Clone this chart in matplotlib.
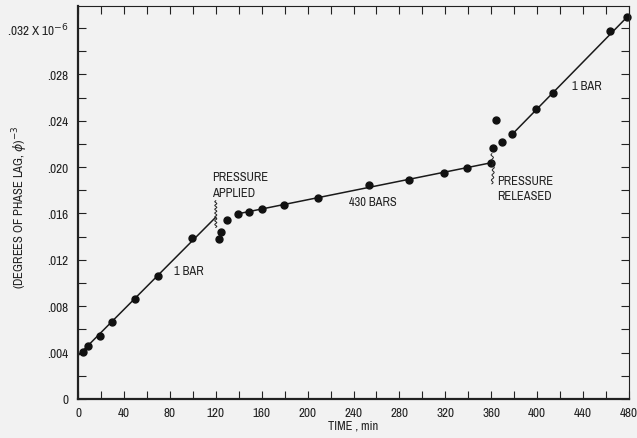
import numpy as np
import matplotlib
matplotlib.use("Agg")
import matplotlib.pyplot as plt
from matplotlib import font_manager
from matplotlib.ticker import MultipleLocator, FuncFormatter

# the original lettering is narrow; use a narrow face if one is installed
narrow = [f.name for f in font_manager.fontManager.ttflist
          if 'Narrow' in f.name or 'Condensed' in f.name]
cond = [f.name for f in font_manager.fontManager.ttflist
        if str(f.stretch) in ('condensed', 'semi-condensed', '75', '87')]
if narrow:
    plt.rcParams['font.family'] = [narrow[0], 'DejaVu Sans']
elif cond:
    plt.rcParams['font.family'] = [cond[0], 'DejaVu Sans']
    plt.rcParams['font.stretch'] = 'condensed'
else:
    plt.rcParams['font.family'] = ['DejaVu Sans']

# measured points: time (min), (phase lag)^-3 in units of 1e-6
time_pts = [4.4, 9, 19.2, 29.6, 49.4, 69.4, 99.6,
            123.1, 124.6, 129.5,
            139.1, 149.2, 160, 179.2, 209.3, 253.8, 288.6, 318.8, 338.6, 359.5,
            361.5, 363.8, 369,
            378.3, 399, 414, 463.4, 478.5]
lag_pts = [0.00403, 0.00457, 0.00544, 0.00662, 0.0086, 0.01059, 0.01387,
           0.01378, 0.01444, 0.01542,
           0.01597, 0.01617, 0.0164, 0.01674, 0.01732, 0.01844, 0.0189, 0.01953, 0.01996, 0.02037,
           0.02169, 0.02405, 0.02221,
           0.02284, 0.02503, 0.02638, 0.03176, 0.03297]

# fitted straight lines (start/end)
fit1_t = [0, 120]
fit1_y = [0.00374, 0.01568]
fit2_t = [139.1, 359.5]
fit2_y = [0.01597, 0.02037]
fit3_t = [378.3, 478.5]
fit3_y = [0.02284, 0.03297]

fig = plt.figure(figsize=(6.37, 4.39), dpi=100)
fig.patch.set_facecolor('#f2f2f2')
ax = fig.add_axes([0.1225, 0.089, 0.865, 0.895])
ax.set_facecolor('#f2f2f2')

for t, y in [(fit1_t, fit1_y), (fit2_t, fit2_y), (fit3_t, fit3_y)]:
    ax.plot(t, y, color='#1a1a1a', lw=1.1)
ax.plot(time_pts, lag_pts, 'o', color='#111111', ms=5, clip_on=False)

# wavy markers where pressure changed
s = np.linspace(0, 1, 200)
ax.plot(120 + 0.9 * np.sin(s * 2 * np.pi * 7), 0.0148 + s * 0.0023, color='#222222', lw=0.7)
ax.plot(360.5 + 0.9 * np.sin(s * 2 * np.pi * 6) + 1.2 * np.sin(s * np.pi), 0.01856 + s * 0.0026,
        color='#222222', lw=0.7)

ax.set_xlim(0, 480)
ax.set_ylim(0, 0.0339)
ax.xaxis.set_major_locator(MultipleLocator(40))
ax.xaxis.set_minor_locator(MultipleLocator(20))
ax.yaxis.set_major_locator(MultipleLocator(0.004))
ax.yaxis.set_minor_locator(MultipleLocator(0.002))


def yfmt(v, pos):
    if abs(v) < 1e-9:
        return '0'
    s = ('%.3f' % v)[1:]
    if abs(v - 0.032) < 1e-6:
        return s + r' X 10$^{-6}$'
    return s


ax.yaxis.set_major_formatter(FuncFormatter(yfmt))
ax.tick_params(which='both', direction='in', top=True, right=True, length=6, width=0.8,
               labelsize=9.5, colors='#222222', pad=7)
ax.tick_params(axis='x', which='both', pad=6)
for sp in ax.spines.values():
    sp.set_color('#222222')
ax.spines['left'].set_linewidth(1.6)
ax.spines['bottom'].set_linewidth(1.6)
ax.spines['top'].set_linewidth(0.8)
ax.spines['right'].set_linewidth(0.8)

ax.set_xlabel('TIME , min', fontsize=9, color='#222222', labelpad=1)
ax.set_ylabel(r'(DEGREES OF PHASE LAG, $\phi$)$^{-3}$', fontsize=9, color='#222222')
ax.yaxis.set_label_coords(-0.088, 0.49)

txt = dict(fontsize=9, color='#222222', linespacing=1.45)
ax.text(116.7, 0.0185, 'PRESSURE\nAPPLIED', ha='left', va='center', **txt)
ax.text(96.7, 0.0111, '1 BAR', ha='center', va='center', **txt)
ax.text(256.7, 0.0170, '430 BARS', ha='center', va='center', **txt)
ax.text(443, 0.0270, '1 BAR', ha='center', va='center', **txt)
ax.text(365.3, 0.0182, 'PRESSURE\nRELEASED', ha='left', va='center', **txt)

fig.savefig('out.png', dpi=100, facecolor=fig.get_facecolor())
